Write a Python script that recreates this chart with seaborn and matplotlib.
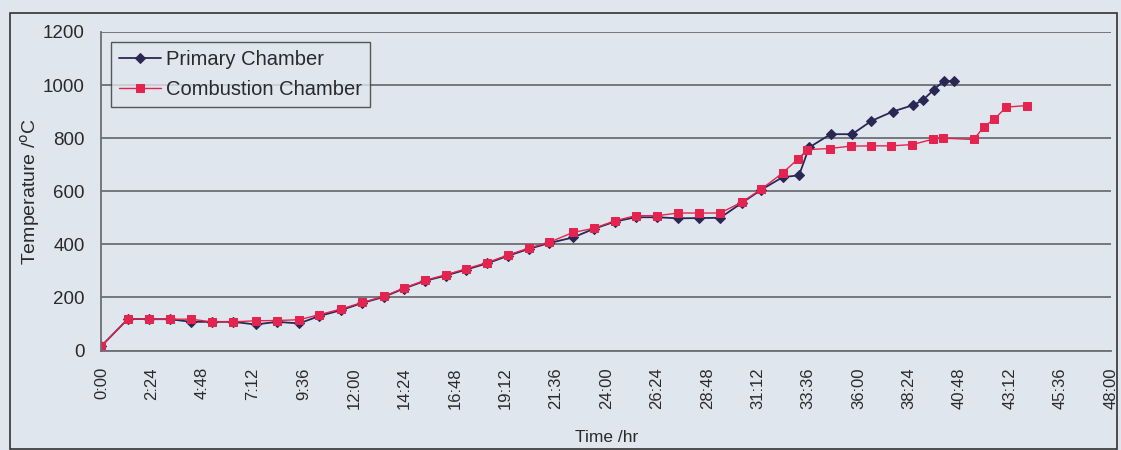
import matplotlib
matplotlib.use("Agg")
import matplotlib.pyplot as plt
import matplotlib.patches as patches
import seaborn as sns
import pandas as pd

# ---- data (time in hours, temperature in degC) ----
combustion_time = [0, 1.26, 2.25, 3.26, 4.25, 5.25, 6.27, 7.33, 8.35, 9.4, 10.36,
                   11.39, 12.40, 13.43, 14.37, 15.37, 16.36, 17.35, 18.33, 19.34,
                   20.33, 21.3, 22.43, 23.4, 24.43, 25.4, 26.43, 27.42, 28.42, 29.42,
                   30.45, 31.36, 32.39, 33.14, 33.57, 34.62, 35.62, 36.6, 37.55,
                   38.56, 39.53, 40.0, 41.48, 41.96, 42.44, 43.03, 44.02]
combustion_temp = [17, 119, 118, 118, 118, 108, 108, 112, 113, 116, 135,
                   156, 181, 204, 235, 264, 285, 308, 331, 360,
                   386, 408, 445, 460, 489, 508, 508, 518, 518, 518,
                   559, 607, 669, 723, 757, 761, 770, 771, 771,
                   776, 796, 800, 795, 843, 871, 917, 923]

primary_time = [0, 1.26, 2.25, 3.26, 4.25, 5.25, 6.27, 7.33, 8.35, 9.4, 10.36,
                11.39, 12.40, 13.43, 14.37, 15.37, 16.36, 17.35, 18.33, 19.34,
                20.33, 21.3, 22.43, 23.4, 24.43, 25.4, 26.43, 27.42, 28.42, 29.42,
                30.45, 31.36, 32.39, 33.17, 33.65, 34.67, 35.70, 36.61, 37.62,
                38.61, 39.07, 39.57, 40.06, 40.56]
primary_temp = [17, 119, 118, 118, 108, 108, 108, 98, 108, 102, 130,
                152, 179, 202, 233, 262, 282, 305, 328, 357,
                383, 405, 426, 458, 486, 502, 502, 498, 499, 500,
                556, 605, 653, 660, 765, 815, 815, 865, 900,
                925, 944, 982, 1016, 1014]

x_ticks = [i * 2.4 for i in range(21)]
x_tick_labels = ["0:00", "2:24", "4:48", "7:12", "9:36", "12:00", "14:24", "16:48",
                 "19:12", "21:36", "24:00", "26:24", "28:48", "31:12", "33:36",
                 "36:00", "38:24", "40:48", "43:12", "45:36", "48:00"]
y_ticks = [0, 200, 400, 600, 800, 1000, 1200]

BG = "#dfe6ee"
PRIMARY_COLOR = "#2b2755"
COMBUSTION_COLOR = "#e3244f"
GRID_COLOR = "#6e6e72"
TEXT_COLOR = "#2a2a2a"

sns.set_theme(style="white")
plt.rcParams['font.family'] = ['Liberation Sans', 'DejaVu Sans']

fig = plt.figure(figsize=(11.21, 4.5), dpi=100, facecolor=BG)
ax = fig.add_axes([0.0905, 0.2211, 0.9005, 0.7078])
ax.set_facecolor(BG)

df_primary = pd.DataFrame({"time": primary_time, "temp": primary_temp})
df_comb = pd.DataFrame({"time": combustion_time, "temp": combustion_temp})

sns.lineplot(data=df_primary, x="time", y="temp", ax=ax, color=PRIMARY_COLOR,
             marker="D", markersize=5.5, markeredgecolor=PRIMARY_COLOR, linewidth=1.3,
             label="Primary Chamber", sort=False)
sns.lineplot(data=df_comb, x="time", y="temp", ax=ax, color=COMBUSTION_COLOR,
             marker="s", markersize=5.5, markeredgecolor=COMBUSTION_COLOR, linewidth=1.0,
             label="Combustion Chamber", sort=False)

ax.set_xlim(0, 48)
ax.set_ylim(0, 1200)
ax.set_xticks(x_ticks)
ax.set_xticklabels(x_tick_labels, rotation=90, fontsize=12, color=TEXT_COLOR)
ax.set_yticks(y_ticks)
ax.set_yticklabels([str(v) for v in y_ticks], fontsize=13.5, color=TEXT_COLOR)
ax.tick_params(axis="x", direction="out", length=4, width=1, color=GRID_COLOR, pad=8)
ax.tick_params(axis="y", direction="out", length=5, width=1, color=GRID_COLOR, pad=7)
ax.yaxis.grid(True, color=GRID_COLOR, linewidth=1.3)
ax.xaxis.grid(False)
ax.set_axisbelow(True)

for side in ["top", "right"]:
    ax.spines[side].set_visible(False)
for side in ["left", "bottom"]:
    ax.spines[side].set_color(GRID_COLOR)
    ax.spines[side].set_linewidth(1.3)

ax.set_xlabel("Time /hr", fontsize=12.5, color=TEXT_COLOR, va="center")
ax.xaxis.set_label_coords(0.5, -0.272)
ax.set_ylabel(r"Temperature /$^{\mathrm{o}}$C", fontsize=14, color=TEXT_COLOR, va="center")
ax.yaxis.set_label_coords(-0.0707, 0.5)

leg = ax.legend(loc="upper left", bbox_to_anchor=(0.0094, 0.9686), borderaxespad=0,
                fontsize=14.5, frameon=True, fancybox=False, handlelength=2.1,
                handletextpad=0.25, borderpad=0.4, labelspacing=0.55)
leg.get_frame().set_facecolor(BG)
leg.get_frame().set_edgecolor("#333333")
leg.get_frame().set_linewidth(1.0)
for t in leg.get_texts():
    t.set_color(TEXT_COLOR)

# outer chart frame
fig.patches.append(patches.Rectangle((10 / 1121, 1 / 450), 1107 / 1121, 436 / 450,
                                     transform=fig.transFigure, fill=False,
                                     edgecolor="#333333", linewidth=1.2))

fig.savefig("out.png", dpi=100, facecolor=BG)
